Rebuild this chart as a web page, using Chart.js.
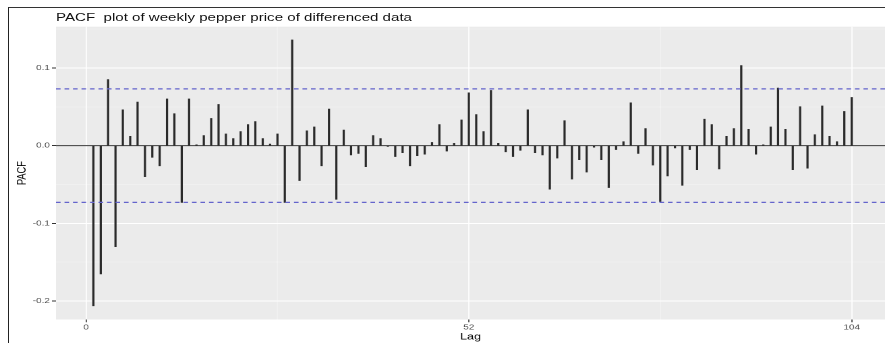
<!DOCTYPE html>
<html>
<head>
<meta charset="utf-8">
<script src="https://cdn.jsdelivr.net/npm/chart.js@4"></script>
<style>
  html, body { margin: 0; padding: 0; background: #fff; }
  body { width: 885px; height: 343px; position: relative; overflow: hidden; }
  #frame { position: absolute; left: 8px; top: 7px; right: 0; bottom: 0;
           border-top: 1.5px solid #333; border-left: 1.5px solid #222; }
  /* plot is laid out on a narrower canvas and widened, giving the wide lettering */
  #wrap { position: absolute; left: 0; top: 0; width: 656px; height: 343px;
          transform: scaleX(1.3491); transform-origin: 0 0; }
  #title { position: absolute; left: 41.5px; top: 11px; white-space: pre;
           font: 11.2px/12px 'Liberation Sans', Arial, sans-serif; color: #111; }
  canvas { position: absolute; left: 0; top: 0; }
</style>
</head>
<body>
<div id="frame"></div>
<div id="wrap">
  <canvas id="c" width="656" height="343"></canvas>
  <div id="title">PACF  plot of weekly pepper price of differenced data</div>
</div>
<script>
// Lags of the partial autocorrelation function
const lags = [
  1, 2, 3, 4, 5, 6, 7, 8, 9, 10, 11, 12, 13, 14, 15, 16, 17, 18, 19, 20,
  21, 22, 23, 24, 25, 26, 27, 28, 29, 30, 31, 32, 33, 34, 35, 36, 37, 38, 39, 40,
  41, 42, 43, 44, 45, 46, 47, 48, 49, 50, 51, 52, 53, 54, 55, 56, 57, 58, 59, 60,
  61, 62, 63, 64, 65, 66, 67, 68, 69, 70, 71, 72, 73, 74, 75, 76, 77, 78, 79, 80,
  81, 82, 83, 84, 85, 86, 87, 88, 89, 90, 91, 92, 93, 94, 95, 96, 97, 98, 99, 100,
  101, 102, 103, 104
];

// PACF of the differenced weekly pepper price
const pacfValues = [
  -0.206, -0.165, 0.085, -0.130, 0.046, 0.012, 0.056, -0.040, -0.015, -0.026,
  0.060, 0.041, -0.073, 0.060, 0.001, 0.013, 0.035, 0.053, 0.015, 0.009,
  0.018, 0.027, 0.031, 0.009, 0.002, 0.015, -0.073, 0.136, -0.045, 0.019,
  0.024, -0.026, 0.047, -0.069, 0.020, -0.012, -0.010, -0.027, 0.013, 0.009,
  -0.001, -0.014, -0.009, -0.026, -0.013, -0.011, 0.004, 0.027, -0.007, 0.003,
  0.033, 0.068, 0.040, 0.018, 0.071, 0.003, -0.008, -0.014, -0.006, 0.046,
  -0.009, -0.012, -0.056, -0.016, 0.032, -0.043, -0.018, -0.034, -0.002, -0.018,
  -0.054, -0.005, 0.005, 0.055, -0.010, 0.022, -0.025, -0.072, -0.039, -0.003,
  -0.051, -0.005, -0.031, 0.034, 0.027, -0.030, 0.012, 0.022, 0.103, 0.021,
  -0.011, 0.001, 0.024, 0.074, 0.021, -0.031, 0.050, -0.029, 0.014, 0.051,
  0.012, 0.005, 0.044, 0.062
];

// 95% significance bound (±)
const ciBound = 0.073;

// Axis ticks
const xMajorTicks = [0, 52, 104];
const xMinorTicks = [26, 78];
const yMajorTicks = [-0.2, -0.1, 0.0, 0.1];
const yMinorTicks = [-0.15, -0.05, 0.05, 0.15];

const X_MIN = -4.08, X_MAX = 108.53;
const Y_MIN = -0.2237, Y_MAX = 0.153;
const FONT = "'Liberation Sans', Arial, sans-serif";

const isMajorX = v => xMajorTicks.includes(v);
const isMajorY = v => Math.abs(v * 10 - Math.round(v * 10)) < 1e-6;

const panelBg = {
  id: 'panelBg',
  beforeDraw(chart) {
    const { ctx, chartArea: a } = chart;
    ctx.save();
    ctx.fillStyle = '#ebebeb';
    ctx.fillRect(a.left, a.top, a.right - a.left, a.bottom - a.top);
    ctx.restore();
  }
};

const hline = y => [{ x: X_MIN, y: y }, { x: X_MAX, y: y }];

new Chart(document.getElementById('c'), {
  type: 'bar',
  data: {
    datasets: [
      {
        type: 'line', data: hline(ciBound), borderColor: '#6464cc', borderWidth: 1.15,
        borderDash: [3.4, 2.9], pointRadius: 0, order: 0
      },
      {
        type: 'line', data: hline(-ciBound), borderColor: '#6464cc', borderWidth: 1.15,
        borderDash: [3.4, 2.9], pointRadius: 0, order: 0
      },
      {
        type: 'bar', data: lags.map((l, i) => ({ x: l, y: pacfValues[i] })),
        backgroundColor: '#2a2a2a', borderWidth: 0, barThickness: 0.95, order: 1
      },
      {
        type: 'line', data: hline(0), borderColor: '#3a3a3a', borderWidth: 1,
        pointRadius: 0, order: 2
      }
    ]
  },
  options: {
    responsive: false,
    animation: false,
    devicePixelRatio: 2,
    layout: { padding: { top: 26.7, left: 0, right: 0, bottom: 0 }, autoPadding: false },
    plugins: { legend: { display: false }, tooltip: { enabled: false }, title: { display: false } },
    scales: {
      x: {
        type: 'linear', min: X_MIN, max: X_MAX, offset: false,
        afterBuildTicks: s => {
          s.ticks = [...xMajorTicks, ...xMinorTicks].sort((a, b) => a - b).map(v => ({ value: v }));
        },
        afterFit: s => { s.height = 23.5; },
        border: { display: false },
        grid: {
          offset: false,
          color: c => (c.tick && isMajorX(c.tick.value)) ? '#ffffff' : 'rgba(255,255,255,0.55)',
          lineWidth: c => (c.tick && isMajorX(c.tick.value)) ? 0.8 : 0.45,
          drawTicks: true, tickLength: 2.7, tickWidth: 0.8,
          tickColor: c => (c.tick && isMajorX(c.tick.value)) ? '#333333' : 'rgba(0,0,0,0)'
        },
        ticks: {
          autoSkip: false, maxRotation: 0, minRotation: 0, padding: 1,
          color: '#4d4d4d', font: { family: FONT, size: 7.4 },
          callback: v => isMajorX(v) ? String(v) : ''
        },
        title: {
          display: true, text: 'Lag', color: '#000',
          font: { family: FONT, size: 9.3 }, padding: { top: 0, bottom: 0.7 }
        }
      },
      y: {
        min: Y_MIN, max: Y_MAX,
        afterBuildTicks: s => {
          s.ticks = [...yMajorTicks, ...yMinorTicks].sort((a, b) => a - b).map(v => ({ value: v }));
        },
        afterFit: s => { s.width = 41.5; },
        border: { display: false },
        grid: {
          color: c => (c.tick && isMajorY(c.tick.value)) ? '#ffffff' : 'rgba(255,255,255,0.55)',
          lineWidth: c => (c.tick && isMajorY(c.tick.value)) ? 1 : 0.5,
          drawTicks: true, tickLength: 3, tickWidth: 1,
          tickColor: c => (c.tick && isMajorY(c.tick.value)) ? '#333333' : 'rgba(0,0,0,0)'
        },
        ticks: {
          autoSkip: false, padding: 1.5,
          color: '#4d4d4d', font: { family: FONT, size: 7.4 },
          callback: v => isMajorY(v) ? v.toFixed(1) : ''
        },
        title: {
          display: true, text: 'PACF', color: '#000',
          font: { family: FONT, size: 9.3 }, padding: { top: 10.7, bottom: 0 }
        }
      }
    }
  },
  plugins: [panelBg]
});
</script>
</body>
</html>
